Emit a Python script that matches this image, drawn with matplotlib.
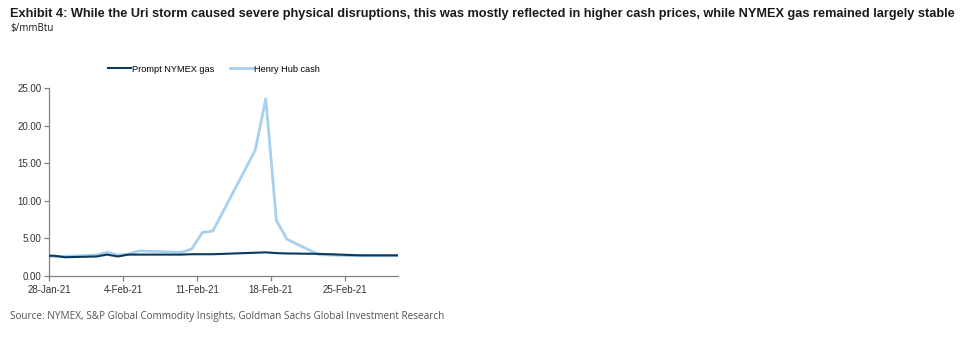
import matplotlib.pyplot as plt
import matplotlib.dates as mdates
import pandas as pd

# business days shown on the chart (27-Jan sits just left of the axis and is clipped)
dates = ["2021-01-27", "2021-01-28", "2021-01-29", "2021-02-01", "2021-02-02",
         "2021-02-03", "2021-02-04", "2021-02-05", "2021-02-08", "2021-02-09",
         "2021-02-10", "2021-02-11", "2021-02-12", "2021-02-16", "2021-02-17",
         "2021-02-18", "2021-02-19", "2021-02-22", "2021-02-23", "2021-02-24",
         "2021-02-25", "2021-02-26", "2021-03-01", "2021-03-02"]
nymex = [2.70, 2.70, 2.50, 2.60, 2.85, 2.60, 2.85, 2.85, 2.85, 2.85, 2.90, 2.90, 2.90,
         3.10, 3.15, 3.05, 3.00, 2.95, 2.90, 2.85, 2.80, 2.75, 2.75, 2.75]
henry_hub = [2.65, 2.60, 2.60, 2.80, 3.15, 2.80, 2.90, 3.35, 3.20, 3.15, 3.60, 5.80, 6.00,
             16.75, 23.60, 7.40, 4.90, 2.85, 2.80, 2.75, 2.70, 2.70, 2.70, 2.70]
tick_dates = ["2021-01-28", "2021-02-04", "2021-02-11", "2021-02-18", "2021-02-25"]

# Excel date axis puts each point in the middle of its day
x = pd.to_datetime(dates) + pd.Timedelta(hours=12)

plt.rcParams['font.family'] = ['Liberation Sans', 'DejaVu Sans']

fig = plt.figure(figsize=(9.68, 3.41), dpi=100)
ax = fig.add_axes([49 / 968, 65 / 341, 349 / 968, 187.7 / 341])

ax.plot(x, henry_hub, color='#a6d0f0', lw=2.0, label='Henry Hub cash', zorder=2)
ax.plot(x, nymex, color='#0b3a60', lw=1.5, label='Prompt NYMEX gas', zorder=3)

ax.set_xlim(pd.Timestamp("2021-01-28"), pd.Timestamp("2021-03-02"))
ax.set_ylim(0, 25)
ax.set_yticks([0, 5, 10, 15, 20, 25])
ax.set_yticklabels([f"{v:.2f}" for v in [0, 5, 10, 15, 20, 25]])
ax.set_xticks(pd.to_datetime(tick_dates))
ax.xaxis.set_major_formatter(mdates.DateFormatter('%-d-%b-%y'))

for s in ['top', 'right']:
    ax.spines[s].set_visible(False)
for s in ['left', 'bottom']:
    ax.spines[s].set_color('#808080')
    ax.spines[s].set_linewidth(0.9)
ax.tick_params(axis='both', labelsize=7, colors='#808080', labelcolor='#333333',
               length=3.5, width=0.9)
ax.tick_params(axis='x', pad=3)
ax.tick_params(axis='y', pad=2)

h, l = ax.get_legend_handles_labels()
fig.legend(h[::-1], l[::-1], loc='center', bbox_to_anchor=(214 / 968, 1 - 69 / 341),
           ncol=2, frameon=False, fontsize=6.6, handlelength=2.5, handletextpad=0.05,
           columnspacing=1.8)

title = fig.text(10 / 968, 1 - 14 / 341,
                 "Exhibit 4: While the Uri storm caused severe physical disruptions, this was mostly "
                 "reflected in higher cash prices, while NYMEX gas remained largely stable",
                 fontsize=9.6, fontweight='bold', color='#1a1a1a', va='center', ha='left')
sub = fig.text(10 / 968, 1 - 29 / 341, "$/mmBtu", fontsize=8.5,
               family=['Open Sans', 'DejaVu Sans'], color='#1a1a1a', va='center', ha='left')
src = fig.text(10 / 968, 1 - 316 / 341,
               "Source: NYMEX, S&P Global Commodity Insights, Goldman Sachs Global Investment Research",
               fontsize=6.8, family=['Open Sans', 'DejaVu Sans'], color='#555555',
               va='center', ha='left')

# shrink/grow each text so it spans the same width as in the reference
fig.canvas.draw()
r = fig.canvas.get_renderer()
for t, target in [(title, 947), (sub, 43), (src, 433)]:
    w = t.get_window_extent(r).width
    t.set_fontsize(t.get_fontsize() * target / w)

fig.savefig('out.png', dpi=100)
